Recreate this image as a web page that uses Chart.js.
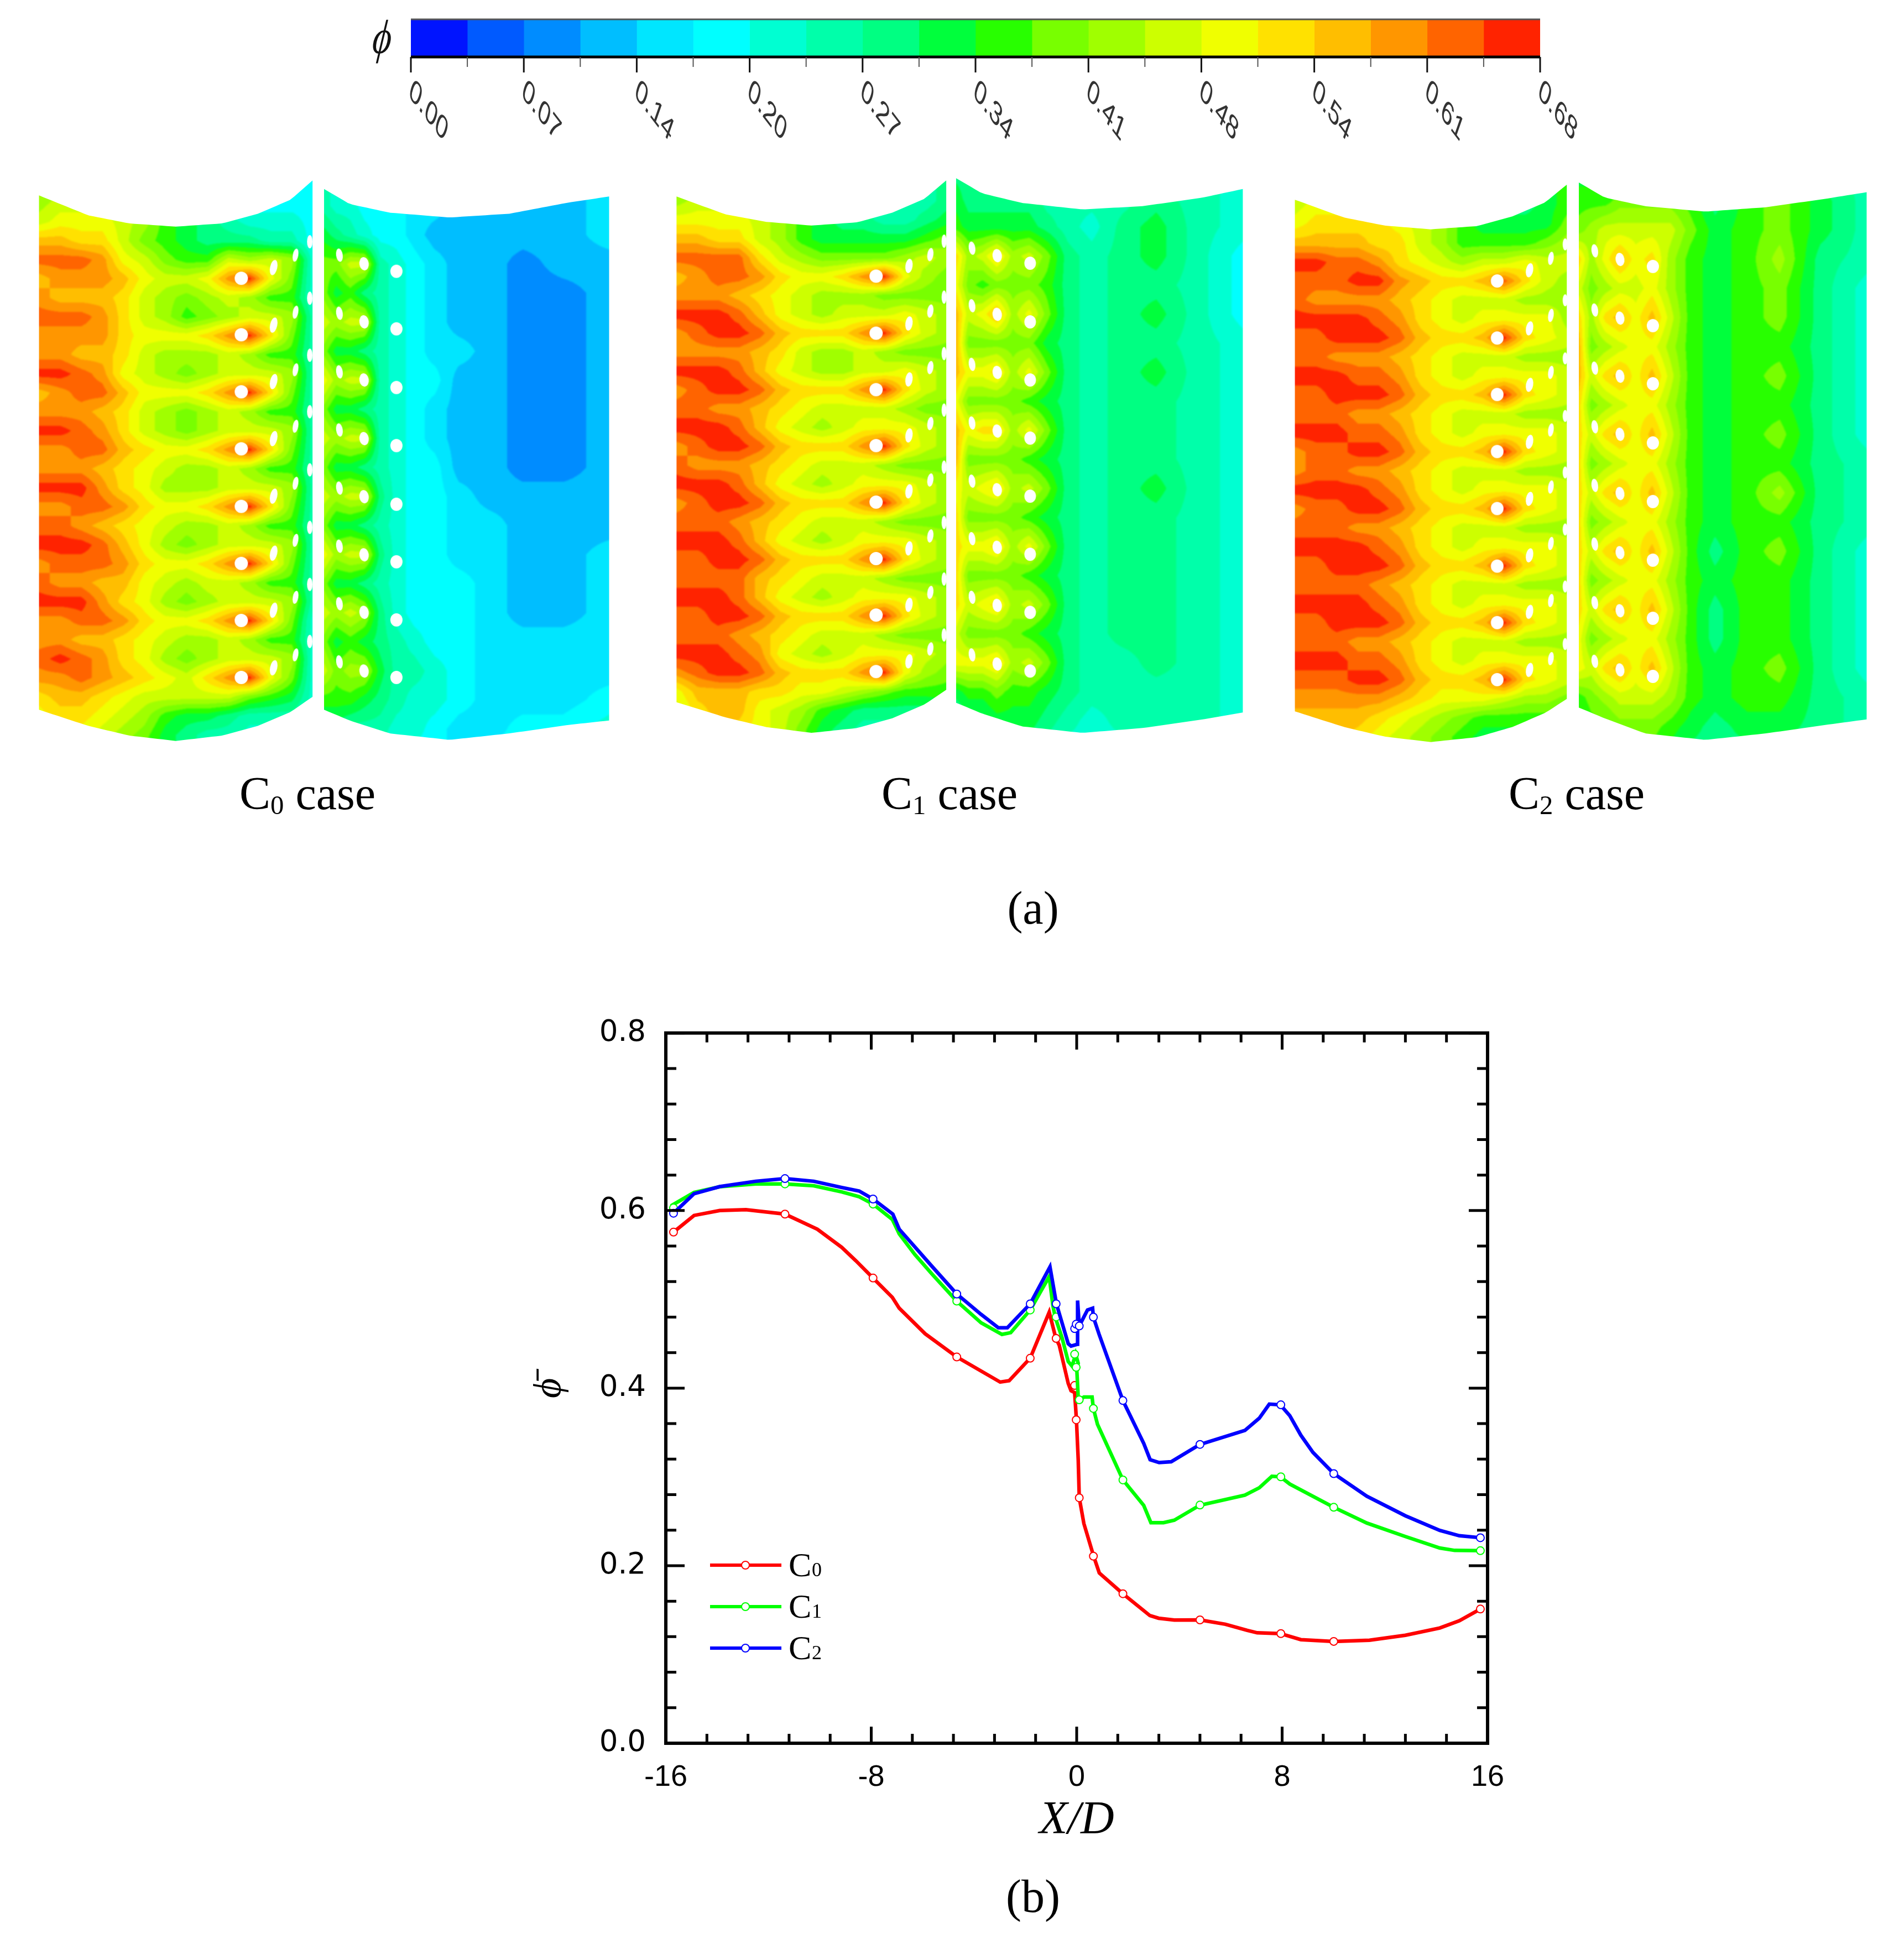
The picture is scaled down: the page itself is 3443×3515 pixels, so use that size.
<!DOCTYPE html>
<html>
<head>
<meta charset="utf-8">
<title>Film cooling effectiveness</title>
<script src="https://cdn.jsdelivr.net/npm/chart.js@4"></script>
<style>
  html, body { margin: 0; background: #fff; }
  #page { position: relative; width: 3443px; height: 3515px; overflow: hidden; background: #fff; }
  canvas { position: absolute; }
  .caption { position: absolute; transform: translate(-50%, -50%); font: 84px "Liberation Serif", serif; color: #000; white-space: nowrap; }
  .caption sub { font-size: 58%; vertical-align: baseline; position: relative; top: 0.18em; }
</style>
</head>
<body>
<div id="page">
  <canvas id="colorbar" width="2300" height="260" style="left:640px;top:0"></canvas>
  <canvas id="contours" width="3443" height="1100" style="left:0;top:280px"></canvas>
  <canvas id="lines" width="1850" height="1550" style="left:900px;top:1800px"></canvas>
  <div class="caption" style="left:556px;top:1434px">C<sub>0</sub> case</div>
  <div class="caption" style="left:1717px;top:1434px">C<sub>1</sub> case</div>
  <div class="caption" style="left:2851px;top:1434px">C<sub>2</sub> case</div>
  <div class="caption" style="left:1868px;top:1641px">(a)</div>
  <div class="caption" style="left:1868px;top:3428px">(b)</div>
</div>
<script>
// Colour bar: 20 bands between 0.00 and 0.68
const bandColors = [
  "#0014ff", "#005aff", "#008cff", "#00beff", "#00e6ff",
  "#00ffff", "#00ffd2", "#00ffaa", "#00ff82", "#00ff3c",
  "#28ff00", "#78ff00", "#a0ff00", "#cdff00", "#f0ff00",
  "#ffe100", "#ffbe00", "#ff9600", "#ff6400", "#ff2300",
];
const bandWidth = 0.034;
const colorbarTicks = ["0.00", "0.07", "0.14", "0.20", "0.27", "0.34", "0.41", "0.48", "0.54", "0.61", "0.68"];

// Line plot (b)
const c0X = [-15.7, -14.9, -13.9, -12.88, -11.36, -10.1, -9.15, -8.6, -7.93, -7.18, -6.91, -5.9, -4.67, -2.98, -2.63, -1.81, -1.07, -0.81, -0.68, -0.33, -0.22, -0.08, -0.01, 0.06, 0.1, 0.28, 0.66, 0.88, 1.8, 2.85, 3.19, 3.8, 4.8, 5.79, 6.64, 7.03, 7.93, 8.73, 10.01, 11.4, 12.8, 14.14, 14.9, 15.72];
const c0Y = [0.5757, 0.5945, 0.6, 0.601, 0.596, 0.579, 0.5586, 0.5435, 0.524, 0.5023, 0.49, 0.4612, 0.4351, 0.4068, 0.4084, 0.4337, 0.4855, 0.456, 0.4484, 0.4053, 0.3971, 0.395, 0.3643, 0.319, 0.2765, 0.2474, 0.2107, 0.1918, 0.1684, 0.1438, 0.1408, 0.1387, 0.1389, 0.134, 0.1271, 0.1244, 0.1235, 0.1167, 0.1147, 0.116, 0.1216, 0.1298, 0.138, 0.1512];
const c1X = [-15.8, -14.9, -13.9, -12.5, -11.36, -10.24, -9.15, -8.47, -7.93, -7.18, -6.91, -6.3, -5.63, -4.67, -3.72, -2.91, -2.57, -1.81, -1.07, -0.93, -0.84, -0.57, -0.33, -0.18, -0.04, 0.06, 0, 0.06, 0.1, 0.28, 0.6, 0.65, 0.81, 1.8, 2.61, 2.89, 3.38, 3.8, 4.79, 6.55, 7.11, 7.6, 7.93, 8.3, 10.01, 11.3, 12.8, 14.14, 14.72, 15.72];
const c1Y = [0.6053, 0.6204, 0.6268, 0.63, 0.63, 0.6279, 0.621, 0.6156, 0.6073, 0.59, 0.5737, 0.5504, 0.5284, 0.498, 0.4735, 0.4605, 0.4625, 0.488, 0.5257, 0.4936, 0.4802, 0.4566, 0.43, 0.4248, 0.4382, 0.4279, 0.4234, 0.3889, 0.3868, 0.3899, 0.3899, 0.3771, 0.3592, 0.2966, 0.2679, 0.2484, 0.2484, 0.2512, 0.268, 0.2795, 0.2877, 0.3007, 0.3001, 0.2919, 0.2658, 0.248, 0.2328, 0.2199, 0.2172, 0.2169];
const c2X = [-15.7, -14.9, -13.9, -12.5, -11.36, -10.24, -9.15, -8.47, -7.93, -7.16, -6.91, -6.3, -5.63, -4.67, -3.72, -3.05, -2.7, -1.81, -1.04, -0.79, -0.33, -0.22, 0.03, 0.03, 0.04, 0.1, 0.42, 0.62, 0.65, 0.87, 1.8, 2.61, 2.86, 3.21, 3.68, 4.79, 6.55, 7.11, 7.5, 7.93, 8.3, 8.73, 9.2, 10.01, 11.3, 12.8, 14.14, 14.9, 15.72];
const c2Y = [0.597, 0.619, 0.627, 0.633, 0.636, 0.633, 0.626, 0.622, 0.613, 0.596, 0.579, 0.559, 0.537, 0.506, 0.483, 0.468, 0.468, 0.495, 0.5366, 0.495, 0.45, 0.4474, 0.4494, 0.467, 0.4987, 0.47, 0.488, 0.49, 0.48, 0.4608, 0.386, 0.3377, 0.3194, 0.3161, 0.3171, 0.3364, 0.3523, 0.3661, 0.382, 0.3812, 0.3688, 0.3469, 0.3276, 0.3037, 0.2782, 0.2562, 0.2397, 0.2337, 0.2315];

// Open circle markers, same streamwise stations on all three curves
const markerX = [-15.7, -11.36, -7.93, -4.67, -1.81, -0.8, -0.08, -0.02, 0.1, 0.65, 1.8, 4.8, 7.95, 10.01, 15.72];
const c0Marks = [0.5757, 0.596, 0.524, 0.4351, 0.4337, 0.456, 0.403, 0.3643, 0.2765, 0.2107, 0.1684, 0.1389, 0.1235, 0.1147, 0.1512];
const c1Marks = [0.603, 0.63, 0.6073, 0.498, 0.488, 0.4802, 0.4382, 0.4234, 0.3868, 0.3771, 0.2966, 0.2683, 0.3001, 0.2658, 0.2169];
const c2Marks = [0.597, 0.636, 0.613, 0.506, 0.495, 0.495, 0.467, 0.472, 0.47, 0.48, 0.386, 0.3366, 0.3812, 0.3037, 0.2315];

const seriesNames = ["0", "1", "2"];
const seriesColors = ["#ff0000", "#00ff00", "#0000ff"];

// Contour maps: band index (0-19) read at each grid node, rows from the top
const leftColU = [0, 0.0769, 0.1538, 0.2308, 0.3077, 0.3846, 0.4615, 0.5385, 0.6154, 0.6923, 0.7692, 0.8462, 0.9231, 1];
const rightColU = [0, 0.042, 0.092, 0.141, 0.197, 0.254, 0.317, 0.387, 0.472, 0.585, 0.697, 0.838, 1];
const edgeLeftU = [0, 0.18, 0.33, 0.5, 0.67, 0.8, 0.92, 1];
const edgeRightU = [0, 0.09, 0.23, 0.44, 0.65, 0.86, 1];

const c0LeftBands = [
  [11,12,12,12,12,11,9,7,6,5,5,5,5,5],
  [12,13,13,13,13,12,10,8,7,6,5,5,5,5],
  [13,14,14,14,13,12,10,9,8,7,6,6,6,5],
  [16,16,15,15,13,11,10,9,8,8,8,7,7,5],
  [18,18,18,17,14,13,11,10,10,13,12,13,12,6],
  [16,17,17,17,16,14,13,13,14,17,19,14,11,6],
  [17,16,16,16,15,13,12,11,12,13,12,10,10,6],
  [18,18,18,17,15,13,12,10,11,12,13,13,12,7],
  [17,17,17,17,15,14,14,14,15,17,19,15,11,7],
  [17,17,16,16,15,13,12,12,12,13,12,10,10,7],
  [19,19,18,17,14,13,12,11,12,13,13,13,12,7],
  [16,17,18,18,16,14,14,14,15,17,19,15,11,7],
  [17,17,17,16,15,13,12,11,12,13,12,10,10,7],
  [19,19,18,17,15,13,12,11,12,13,13,13,12,7],
  [17,17,18,18,16,15,14,14,15,17,19,15,11,7],
  [17,17,17,16,15,14,13,12,12,13,12,10,10,7],
  [19,19,19,17,15,14,12,12,12,13,13,13,12,7],
  [17,17,18,18,17,15,14,14,15,17,19,15,11,7],
  [18,18,17,16,15,14,13,12,12,13,12,10,10,7],
  [19,19,19,18,16,14,12,11,12,13,13,13,12,7],
  [17,18,18,18,17,15,14,14,15,17,19,15,11,7],
  [18,17,17,16,16,14,13,12,13,13,12,10,10,7],
  [19,19,19,17,15,14,12,11,12,13,13,13,12,7],
  [17,17,18,18,17,15,14,14,15,17,19,15,11,6],
  [17,17,16,16,15,14,13,12,12,13,12,10,10,6],
  [18,19,18,17,15,14,12,11,12,13,13,13,12,6],
  [17,17,18,17,16,15,14,13,15,17,19,14,11,6],
  [15,16,16,15,14,13,13,13,13,13,11,10,9,6],
  [14,15,15,14,13,12,10,9,9,8,7,7,7,6],
  [13,14,14,13,12,11,9,8,7,7,6,6,6,6],
  [13,13,13,13,12,10,9,8,7,6,6,6,6,6],
];
const c0RightBands = [
  [7,6,5,5,5,5,4,4,3,3,3,3,4],
  [7,6,6,5,5,5,4,4,3,3,3,3,4],
  [9,8,7,6,5,5,4,3,3,3,3,3,4],
  [11,11,13,13,7,6,5,4,3,3,2,3,3],
  [11,9,10,8,7,6,5,4,3,3,2,2,3],
  [13,12,13,13,7,6,5,4,3,3,2,2,3],
  [11,9,9,8,7,6,5,4,4,3,2,2,3],
  [14,12,13,13,7,6,5,5,3,3,2,2,3],
  [11,9,9,8,7,6,5,4,3,3,2,2,3],
  [13,12,13,13,7,6,5,4,3,3,2,2,3],
  [11,9,9,8,7,6,5,5,3,3,2,2,3],
  [13,12,13,13,8,6,5,5,4,3,3,3,3],
  [11,9,9,8,7,6,5,5,4,4,3,3,3],
  [14,12,13,13,8,6,5,5,4,4,3,3,4],
  [11,9,9,8,7,6,5,5,5,4,3,3,4],
  [13,12,13,12,8,6,5,5,5,4,3,3,4],
  [11,9,10,9,8,7,6,5,5,4,4,4,4],
  [13,11,12,12,9,7,7,6,5,4,4,4,4],
  [10,10,10,9,8,7,6,6,5,4,4,4,5],
  [8,8,7,7,7,6,6,5,4,4,5,5,6],
  [7,7,7,6,6,6,5,5,4,5,5,6,7],
];
const c1LeftBands = [
  [11,11,11,11,11,10,10,9,8,7,7,7,7,8],
  [12,13,13,13,13,12,10,9,8,7,7,7,7,8],
  [14,14,14,14,13,12,10,9,8,8,7,7,8,9],
  [16,16,15,15,13,12,10,9,9,9,9,9,10,11],
  [18,18,18,18,15,13,12,11,11,11,11,12,13,12],
  [16,17,18,18,17,15,14,14,15,17,19,14,12,11],
  [17,17,17,16,15,14,13,12,12,12,11,11,11,11],
  [19,19,19,18,16,14,13,12,13,13,13,14,13,12],
  [17,18,19,19,18,16,15,15,15,17,19,15,13,12],
  [17,17,17,17,16,15,13,12,12,13,12,11,11,11],
  [19,19,19,18,16,14,13,12,12,13,13,14,13,12],
  [17,18,19,19,18,16,15,15,15,17,19,15,13,12],
  [18,18,17,17,16,15,14,13,13,13,13,12,11,11],
  [19,19,19,18,16,14,13,12,13,14,14,14,13,12],
  [17,18,19,19,18,16,15,15,15,17,19,15,13,12],
  [18,17,17,17,16,15,14,13,13,13,12,11,11,11],
  [19,19,19,18,16,14,13,12,13,14,14,14,13,12],
  [17,18,19,19,18,16,15,15,15,17,19,15,13,12],
  [18,18,18,17,16,15,14,13,13,13,12,11,11,11],
  [19,19,19,18,16,14,13,12,13,14,14,14,13,12],
  [18,18,19,19,18,16,15,15,15,17,19,15,13,12],
  [18,18,18,18,16,15,14,13,13,13,12,11,11,11],
  [19,19,19,18,16,14,13,12,13,14,14,14,13,12],
  [18,18,19,19,18,16,15,15,15,17,19,15,13,12],
  [18,18,18,17,16,15,14,13,13,13,12,11,11,11],
  [19,19,19,18,17,14,13,12,13,14,14,14,13,12],
  [17,18,19,19,18,16,15,15,15,17,19,14,12,11],
  [14,16,16,16,15,15,14,14,13,12,11,10,10,10],
  [13,15,16,16,14,13,12,10,9,8,8,8,8,9],
  [13,14,15,15,14,13,11,9,8,7,7,7,8,8],
  [13,14,15,15,14,13,11,9,8,7,7,7,8,8],
];
const c1RightBands = [
  [8,8,8,8,8,8,7,7,7,7,8,7,6],
  [9,8,8,8,8,8,7,7,7,7,8,7,6],
  [10,9,9,9,9,9,8,7,6,8,9,7,6],
  [15,12,13,15,12,13,11,8,7,8,9,7,5],
  [14,11,10,11,11,11,10,8,7,8,8,7,5],
  [16,13,14,16,12,14,11,8,7,8,9,7,5],
  [16,11,11,11,11,11,9,8,7,8,8,7,6],
  [16,14,14,15,12,14,11,8,7,8,9,7,6],
  [14,11,11,11,11,10,9,8,7,8,8,7,6],
  [16,14,15,15,12,14,11,8,7,8,8,7,6],
  [16,11,11,11,11,10,9,8,7,8,8,7,6],
  [14,13,14,15,12,13,11,8,7,8,9,7,6],
  [15,11,11,11,11,10,9,8,7,8,8,7,6],
  [15,14,14,15,12,14,11,8,7,8,8,7,6],
  [15,11,11,11,11,10,9,8,7,8,8,7,6],
  [15,13,14,15,12,13,11,8,7,8,8,7,6],
  [13,11,11,11,11,10,9,8,7,8,8,7,6],
  [14,14,14,15,12,13,11,8,7,7,8,7,6],
  [9,10,10,11,10,10,9,8,7,7,7,7,6],
  [7,8,8,9,9,9,8,7,6,7,7,7,6],
  [7,7,8,8,8,8,7,6,6,6,6,6,6],
];
const c2LeftBands = [
  [12,13,13,13,13,13,12,11,10,9,8,8,9,10],
  [13,14,14,14,14,14,12,11,10,9,8,8,9,10],
  [14,15,15,15,15,14,13,12,10,9,9,9,9,11],
  [16,16,16,16,15,15,13,12,10,10,10,10,11,12],
  [19,19,18,18,17,15,14,13,12,13,13,14,13,13],
  [18,18,18,19,19,17,16,15,15,16,18,15,13,12],
  [18,17,17,17,17,16,15,14,13,13,13,12,12,12],
  [19,19,19,19,18,17,15,14,13,14,14,14,14,12],
  [18,18,19,19,19,18,16,15,15,16,19,15,14,13],
  [18,18,17,17,17,16,15,14,13,13,13,12,12,12],
  [19,19,19,18,18,17,15,14,13,14,14,14,14,13],
  [18,18,19,19,19,18,16,15,15,16,19,15,14,13],
  [18,18,18,17,17,16,15,14,13,13,13,12,12,12],
  [19,19,19,18,18,17,15,14,13,14,14,14,14,13],
  [17,18,18,19,19,18,16,15,15,16,19,15,14,13],
  [17,18,18,17,17,16,15,14,13,13,13,12,12,12],
  [19,19,19,19,18,17,15,14,13,14,14,14,14,13],
  [17,18,18,19,19,18,16,15,15,16,19,15,14,13],
  [18,18,18,17,17,16,15,14,13,13,13,12,12,12],
  [19,19,19,19,18,17,15,14,13,14,14,14,14,13],
  [18,18,19,19,19,18,16,15,15,16,19,15,14,13],
  [18,18,18,18,17,16,15,14,13,13,13,12,12,12],
  [19,19,19,19,18,17,15,14,13,14,14,14,14,13],
  [18,18,19,19,19,18,16,15,15,16,19,15,14,13],
  [18,18,18,17,17,16,15,14,13,13,13,12,12,12],
  [19,19,19,18,18,17,15,14,13,14,14,14,14,13],
  [18,18,18,19,19,18,16,15,15,16,19,15,14,13],
  [17,17,17,17,17,16,15,14,14,14,13,12,12,11],
  [16,16,16,16,15,14,13,12,11,10,10,10,10,10],
  [16,16,16,15,14,13,12,11,10,9,9,9,9,9],
  [16,16,16,15,14,13,12,11,10,9,9,9,9,9],
];
const c2RightBands = [
  [9,9,9,9,9,9,9,9,8,9,10,8,7],
  [10,10,10,11,11,11,11,10,8,10,11,9,7],
  [11,12,13,13,13,13,13,11,9,10,11,9,7],
  [15,12,14,16,14,15,12,10,9,10,12,8,7],
  [13,11,12,13,13,14,12,10,9,10,11,8,6],
  [15,12,15,16,14,16,13,10,9,10,11,8,6],
  [16,11,12,13,14,14,12,10,9,10,10,8,6],
  [16,13,15,16,14,16,13,10,9,10,11,8,6],
  [15,11,12,13,14,14,12,10,9,10,10,8,6],
  [15,13,15,16,14,16,13,10,9,10,11,8,6],
  [15,11,12,13,14,14,12,10,9,10,10,8,7],
  [15,13,15,16,14,16,13,10,9,10,12,8,7],
  [15,11,12,13,14,14,12,10,9,10,10,8,7],
  [15,13,15,16,14,16,13,10,8,10,11,8,6],
  [15,11,12,13,14,14,12,10,9,10,10,8,6],
  [15,13,15,16,14,16,13,10,8,10,10,8,6],
  [14,11,12,13,14,14,12,10,8,10,10,8,6],
  [14,13,15,16,14,16,13,10,9,10,11,8,6],
  [10,11,12,13,13,13,12,10,9,10,10,8,7],
  [9,10,10,11,11,11,10,9,8,9,9,8,7],
  [9,9,9,9,10,10,9,8,8,8,8,8,7],
];

// Surface panels of each case
const panels = [
  { bands: c0LeftBands, colU: leftColU, edgeU: edgeLeftU, x0: 56, x1: 555, rowStart: 317.5, rowStep: 35.33,
    top: [340, 377, 392, 398, 392, 374, 348, 312], bottom: [1296, 1326, 1344, 1354, 1344, 1326, 1300, 1272] },
  { bands: c0RightBands, colU: rightColU, edgeU: edgeRightU, x0: 576, x1: 1096, rowStart: 305, rowStep: 54,
    top: [328, 356, 372, 381, 374, 353, 342], bottom: [1296, 1316, 1340, 1352, 1340, 1324, 1316] },
  { bands: c1LeftBands, colU: leftColU, edgeU: edgeLeftU, x0: 1219, x1: 1711, rowStart: 315, rowStep: 35.07,
    top: [342, 375, 389, 396, 390, 372, 346, 312], bottom: [1282, 1310, 1328, 1339, 1330, 1312, 1286, 1259] },
  { bands: c1RightBands, colU: rightColU, edgeU: edgeRightU, x0: 1729, x1: 2252, rowStart: 290, rowStep: 54,
    top: [308, 336, 354, 366, 360, 344, 328], bottom: [1283, 1303, 1327, 1339, 1330, 1314, 1301] },
  { bands: c2LeftBands, colU: leftColU, edgeU: edgeLeftU, x0: 2347, x1: 2843, rowStart: 322, rowStep: 35.3,
    top: [348, 381, 396, 403, 397, 379, 353, 320], bottom: [1299, 1328, 1346, 1356, 1347, 1328, 1302, 1276] },
  { bands: c2RightBands, colU: rightColU, edgeU: edgeRightU, x0: 2865, x1: 3390, rowStart: 295, rowStep: 54.3,
    top: [316, 344, 360, 370, 362, 346, 334], bottom: [1292, 1312, 1340, 1352, 1340, 1324, 1314] },
];

// Cooling holes: one column per row of holes, x then the eight y stations
const holeColumns = [
  // C0
  { x: 425, y: [494, 599, 705, 811, 918, 1024, 1130, 1236], rx: 12, ry: 12, rot: 0 },
  { x: 484, y: [474, 581, 686, 792, 899, 1005, 1111, 1218], rx: 6.5, ry: 14, rot: 12 },
  { x: 524, y: [451, 557, 664, 769, 875, 981, 1087, 1194], rx: 5, ry: 12, rot: 10 },
  { x: 550, y: [426, 531, 637, 742, 850, 957, 1063, 1169], rx: 5, ry: 12, rot: 0 },
  { x: 604, y: [451, 559, 668, 776, 884, 992, 1099, 1207], rx: 6, ry: 12, rot: -8 },
  { x: 649, y: [467, 575, 683, 792, 900, 1008, 1115, 1224], rx: 8.5, ry: 12, rot: -8 },
  { x: 708, y: [481, 588, 697, 805, 914, 1021, 1129, 1236], rx: 11, ry: 12, rot: 0 },
  // C1
  { x: 1583, y: [490, 596, 701, 805, 910, 1015, 1120, 1225], rx: 12, ry: 12, rot: 0 },
  { x: 1643, y: [471, 578, 682, 786, 890, 996, 1101, 1206], rx: 6.5, ry: 13, rot: 8 },
  { x: 1682, y: [450, 555, 660, 764, 869, 973, 1078, 1183], rx: 5.5, ry: 12, rot: 8 },
  { x: 1707, y: [425, 529, 634, 739, 845, 948, 1053, 1157], rx: 4.5, ry: 12, rot: 0 },
  { x: 1758, y: [438, 545, 654, 763, 871, 978, 1087, 1194], rx: 6, ry: 12, rot: -8 },
  { x: 1804, y: [452, 561, 669, 778, 887, 994, 1102, 1211], rx: 8.5, ry: 12, rot: -8 },
  { x: 1864, y: [466, 575, 683, 791, 899, 1007, 1115, 1224], rx: 10.5, ry: 12, rot: 0 },
  // C2
  { x: 2716, y: [499, 605, 710, 816, 922, 1029, 1134, 1240], rx: 11.5, ry: 12, rot: 0 },
  { x: 2775, y: [479, 587, 692, 798, 904, 1009, 1114, 1222], rx: 6.5, ry: 13, rot: 10 },
  { x: 2814, y: [457, 563, 669, 776, 882, 987, 1093, 1201], rx: 5, ry: 12, rot: 8 },
  { x: 2840, y: [431, 535, 643, 750, 855, 961, 1067, 1174], rx: 4.5, ry: 11, rot: 0 },
  { x: 2894, y: [443, 553, 661, 770, 879, 988, 1097, 1206], rx: 6, ry: 12, rot: -8 },
  { x: 2940, y: [459, 568, 676, 784, 894, 1004, 1112, 1222], rx: 8, ry: 12, rot: -8 },
  { x: 3000, y: [472, 582, 690, 800, 909, 1018, 1126, 1234], rx: 11, ry: 12, rot: 0 },
];

// Function to create charts using Chart.js
function createChart(chartid, type, data, options, plugins) {
  const ctx = document.getElementById(chartid);
  return new Chart(ctx, {
    type: type,
    data: data,
    options: Object.assign({ responsive: false, animation: false, devicePixelRatio: 1 }, options),
    plugins: plugins,
  });
}

function hexToRgb(hex) {
  return [1, 3, 5].map((i) => parseInt(hex.substr(i, 2), 16));
}
const bandRgb = bandColors.map(hexToRgb);

// Colour bar ticks and slanted labels
const colorbarAxisPlugin = {
  id: "colorbarAxis",
  afterDraw(chart) {
    const ctx = chart.ctx;
    const xs = chart.scales.x;
    const area = chart.chartArea;
    ctx.save();
    ctx.strokeStyle = "#555";
    ctx.lineWidth = 3;
    ctx.beginPath();
    ctx.moveTo(area.left, area.top);
    ctx.lineTo(area.right, area.top);
    ctx.stroke();
    ctx.strokeStyle = "#000";
    ctx.lineWidth = 5;
    ctx.beginPath();
    ctx.moveTo(area.left, area.bottom);
    ctx.lineTo(area.right, area.bottom);
    ctx.stroke();
    for (let i = 0; i <= bandColors.length; i++) {
      const px = xs.getPixelForValue(i * bandWidth);
      const major = i % 2 === 0;
      ctx.strokeStyle = major ? "#111" : "#555";
      ctx.lineWidth = major ? 3 : 2;
      ctx.beginPath();
      ctx.moveTo(px, area.bottom);
      ctx.lineTo(px, area.bottom + (major ? 28 : 18));
      ctx.stroke();
    }
    ctx.fillStyle = "#333";
    ctx.font = '55px "Liberation Sans", sans-serif';
    colorbarTicks.forEach((label, i) => {
      const px = xs.getPixelForValue(2 * i * bandWidth);
      ctx.save();
      ctx.translate(px - 6, area.bottom + 69);
      ctx.transform(0.61, 0.796, -0.306, 0.876, 0, 0);
      ctx.fillText(label, 0, 0);
      ctx.restore();
    });
    // phi title at the left end of the bar
    ctx.save();
    ctx.translate(area.left - 52, area.top + 38);
    ctx.transform(1.1, 0, -0.15, 1.45, 0, 0);
    ctx.font = 'italic 60px "Liberation Serif", serif';
    ctx.fillStyle = "#111";
    ctx.textAlign = "center";
    ctx.textBaseline = "middle";
    ctx.fillText("\u03D5", 0, 0);
    ctx.restore();
    ctx.restore();
  },
};

createChart(
  "colorbar",
  "bar",
  {
    labels: ["phi"],
    datasets: bandColors.map((color) => ({
      data: [bandWidth],
      backgroundColor: color,
      barPercentage: 1,
      categoryPercentage: 1,
    })),
  },
  {
    indexAxis: "y",
    layout: { padding: { left: 103, right: 155, top: 35, bottom: 157 } },
    plugins: { legend: { display: false }, tooltip: { enabled: false } },
    scales: {
      x: { stacked: true, display: false, min: 0, max: bandWidth * bandColors.length },
      y: { stacked: true, display: false },
    },
  },
  [colorbarAxisPlugin]
);

// Linear search of the grid cell holding a position along the columns
function cellOf(colU, u) {
  let j = 0;
  while (j < colU.length - 2 && u > colU[j + 1]) j++;
  const f = (u - colU[j]) / (colU[j + 1] - colU[j]);
  return [j, Math.min(1, Math.max(0, f))];
}

function edgeY(edgeU, edge, u) {
  const [j, f] = cellOf(edgeU, u);
  return edge[j] + (edge[j + 1] - edge[j]) * f;
}

// Paints each panel's band grid through the chart scales, banded like a contour plot
const contourPlugin = {
  id: "contourBands",
  beforeDatasetsDraw(chart) {
    const ctx = chart.ctx;
    const xs = chart.scales.x;
    const ys = chart.scales.y;
    panels.forEach((panel) => {
      const rows = panel.bands.length;
      const left = Math.floor(xs.getPixelForValue(panel.x0)) - 6;
      const right = Math.ceil(xs.getPixelForValue(panel.x1)) + 6;
      const top = Math.floor(ys.getPixelForValue(Math.min(...panel.top))) - 6;
      const bottom = Math.ceil(ys.getPixelForValue(Math.max(...panel.bottom))) + 6;
      const w = right - left;
      const h = bottom - top;
      const off = document.createElement("canvas");
      off.width = w;
      off.height = h;
      const octx = off.getContext("2d");
      const img = octx.createImageData(w, h);
      const cols = [];
      for (let px = 0; px < w; px++) {
        const u = (xs.getValueForPixel(left + px) - panel.x0) / (panel.x1 - panel.x0);
        cols.push(cellOf(panel.colU, Math.min(1, Math.max(0, u))));
      }
      for (let py = 0; py < h; py++) {
        const r = (ys.getValueForPixel(top + py) - panel.rowStart) / panel.rowStep;
        const clamped = Math.min(rows - 1.001, Math.max(0, r));
        const r0 = Math.floor(clamped);
        const fr = clamped - r0;
        const a = panel.bands[r0];
        const b = panel.bands[r0 + 1];
        for (let px = 0; px < w; px++) {
          const [j, f] = cols[px];
          const v0 = a[j] + (a[j + 1] - a[j]) * f;
          const v1 = b[j] + (b[j + 1] - b[j]) * f;
          const band = Math.round(v0 + (v1 - v0) * fr);
          const rgb = bandRgb[band];
          const k = (py * w + px) * 4;
          img.data[k] = rgb[0];
          img.data[k + 1] = rgb[1];
          img.data[k + 2] = rgb[2];
          img.data[k + 3] = 255;
        }
      }
      octx.putImageData(img, 0, 0);

      // Clip to the curved outline of the blade surface
      ctx.save();
      ctx.beginPath();
      for (let i = 0; i <= 60; i++) {
        const u = i / 60;
        const x = xs.getPixelForValue(panel.x0 + (panel.x1 - panel.x0) * u);
        const y = ys.getPixelForValue(edgeY(panel.edgeU, panel.top, u));
        if (i === 0) ctx.moveTo(x, y);
        else ctx.lineTo(x, y);
      }
      for (let i = 60; i >= 0; i--) {
        const u = i / 60;
        ctx.lineTo(
          xs.getPixelForValue(panel.x0 + (panel.x1 - panel.x0) * u),
          ys.getPixelForValue(edgeY(panel.edgeU, panel.bottom, u))
        );
      }
      ctx.closePath();
      ctx.clip();
      ctx.filter = "blur(1.5px)";
      ctx.drawImage(off, left, top);
      ctx.restore();
    });
  },
};

// Small white ellipse used as the point style of a cooling hole
function holeStyle(rx, ry, rot) {
  const size = Math.ceil(Math.max(rx, ry) * 2 + 4);
  const c = document.createElement("canvas");
  c.width = size;
  c.height = size;
  const g = c.getContext("2d");
  g.fillStyle = "#fff";
  g.beginPath();
  g.ellipse(size / 2, size / 2, rx, ry, (rot * Math.PI) / 180, 0, Math.PI * 2);
  g.fill();
  return c;
}

createChart(
  "contours",
  "scatter",
  {
    datasets: holeColumns.map((col) => ({
      data: col.y.map((y) => ({ x: col.x, y: y })),
      pointStyle: holeStyle(col.rx, col.ry, col.rot),
      pointRadius: col.ry,
      showLine: false,
    })),
  },
  {
    layout: { padding: 0 },
    plugins: { legend: { display: false }, tooltip: { enabled: false } },
    scales: {
      x: { type: "linear", display: false, min: 0, max: 3443 },
      y: { type: "linear", display: false, min: 280, max: 1380, reverse: true },
    },
  },
  [contourPlugin]
);

// Frame with inward ticks on all four sides, plus the legend
const framePlugin = {
  id: "frameAndLegend",
  afterDraw(chart) {
    const ctx = chart.ctx;
    const area = chart.chartArea;
    const xs = chart.scales.x;
    const ys = chart.scales.y;
    ctx.save();
    ctx.strokeStyle = "#000";
    ctx.lineCap = "butt";
    ctx.lineWidth = 5;
    xs.ticks.forEach((tick) => {
      const px = xs.getPixelForValue(tick.value);
      const len = Math.abs(tick.value / 8 - Math.round(tick.value / 8)) < 1e-6 ? 30 : 17;
      ctx.beginPath();
      ctx.moveTo(px, area.bottom);
      ctx.lineTo(px, area.bottom - len);
      ctx.moveTo(px, area.top);
      ctx.lineTo(px, area.top + len);
      ctx.stroke();
    });
    ys.ticks.forEach((tick) => {
      const py = ys.getPixelForValue(tick.value);
      const len = Math.abs(tick.value / 0.2 - Math.round(tick.value / 0.2)) < 1e-6 ? 34 : 19;
      ctx.beginPath();
      ctx.moveTo(area.left, py);
      ctx.lineTo(area.left + len, py);
      ctx.moveTo(area.right, py);
      ctx.lineTo(area.right - len, py);
      ctx.stroke();
    });
    ctx.lineWidth = 6;
    ctx.strokeRect(area.left, area.top, area.right - area.left, area.bottom - area.top);

    // Legend, line with a marker in the middle and a subscripted name
    seriesNames.forEach((name, i) => {
      const y = 1030 + i * 75;
      ctx.strokeStyle = seriesColors[i];
      ctx.lineWidth = 6;
      ctx.beginPath();
      ctx.moveTo(384, y);
      ctx.lineTo(513, y);
      ctx.stroke();
      ctx.fillStyle = "#fff";
      ctx.lineWidth = 2;
      ctx.beginPath();
      ctx.arc(448, y, 7, 0, Math.PI * 2);
      ctx.fill();
      ctx.stroke();
      ctx.fillStyle = "#000";
      ctx.textBaseline = "alphabetic";
      ctx.textAlign = "left";
      ctx.font = '62px "Liberation Serif", serif';
      ctx.fillText("C", 526, y + 20);
      ctx.font = '36px "Liberation Serif", serif';
      ctx.fillText(name, 568, y + 20);
    });
    ctx.restore();
  },
};

function toPoints(xs, ys) {
  return xs.map((x, i) => ({ x: x, y: ys[i] }));
}

function lineSet(label, xs, ys, color) {
  return {
    label: label,
    data: toPoints(xs, ys),
    borderColor: color,
    borderWidth: 6.5,
    pointRadius: 0,
    showLine: true,
    tension: 0,
  };
}

function markSet(label, ys, color) {
  return {
    label: label + " stations",
    data: toPoints(markerX, ys),
    showLine: false,
    pointRadius: 7,
    pointBorderWidth: 2,
    pointBorderColor: color,
    pointBackgroundColor: "#fff",
  };
}

// Create the line plot, first dataset is drawn on top
createChart(
  "lines",
  "scatter",
  {
    datasets: [
      markSet("C2", c2Marks, seriesColors[2]),
      lineSet("C2", c2X, c2Y, seriesColors[2]),
      markSet("C1", c1Marks, seriesColors[1]),
      lineSet("C1", c1X, c1Y, seriesColors[1]),
      markSet("C0", c0Marks, seriesColors[0]),
      lineSet("C0", c0X, c0Y, seriesColors[0]),
    ],
  },
  {
    layout: { padding: { top: 52, right: 40 } },
    plugins: { legend: { display: false }, tooltip: { enabled: false } },
    scales: {
      x: {
        type: "linear",
        min: -16,
        max: 16,
        afterFit: (scale) => { scale.height = 198; },
        border: { display: false },
        grid: { display: false, drawTicks: false },
        ticks: {
          stepSize: 1.6,
          autoSkip: false,
          maxRotation: 0,
          padding: 30,
          color: "#000",
          font: { family: "Liberation Sans", size: 54 },
          callback: (v) => (Math.abs(v / 8 - Math.round(v / 8)) < 1e-6 ? String(Math.round(v)) : ""),
        },
        title: {
          display: true,
          text: "X/D",
          color: "#000",
          font: { family: "Liberation Serif", size: 84, style: "italic" },
          padding: { top: 0, bottom: 7 },
        },
      },
      y: {
        type: "linear",
        min: 0,
        max: 0.8,
        afterFit: (scale) => { scale.width = 304; },
        border: { display: false },
        grid: { display: false, drawTicks: false },
        ticks: {
          stepSize: 0.04,
          autoSkip: false,
          padding: 36,
          color: "#000",
          font: { family: "DejaVu Sans", size: 53 },
          callback: (v) => (Math.abs(v / 0.2 - Math.round(v / 0.2)) < 1e-6 ? v.toFixed(1) : ""),
        },
        title: {
          display: true,
          text: "\u03D5\u0304",
          color: "#000",
          font: { family: "Liberation Serif", size: 70, style: "italic" },
          padding: { top: 53, bottom: 0 },
        },
      },
    },
  },
  [framePlugin]
);
</script>
</body>
</html>
